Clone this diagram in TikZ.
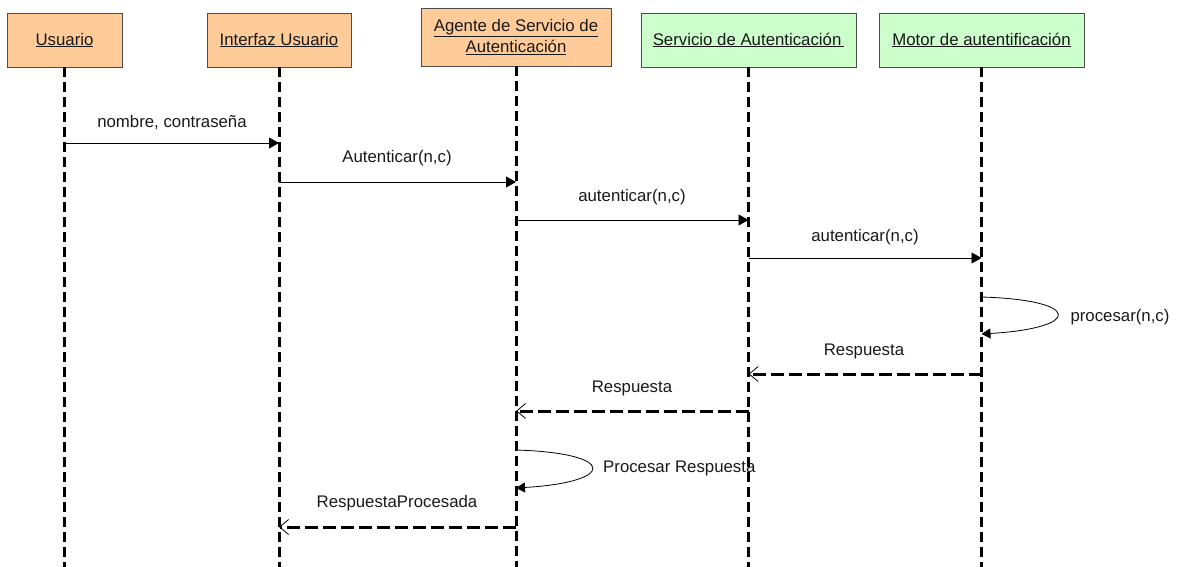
\documentclass[tikz,border=0pt]{standalone}
\usepackage{fontspec}
\setmainfont{Liberation Sans}
\usetikzlibrary{arrows.meta}
\definecolor{actorOrange}{HTML}{FFCC99}
\definecolor{actorGreen}{HTML}{CCFFCC}
\begin{document}
\begin{tikzpicture}[x=1pt,y=-1pt,
  txt/.style={font=\fontsize{16.8}{20}\selectfont, text=black!90, inner sep=0pt},
  actor/.style={txt, draw=black!70, line width=0.9pt, inner sep=0pt, align=center},
  lifeline/.style={line width=3pt, dash pattern=on 10pt off 5pt},
  call/.style={line width=0.8pt, -{Triangle[length=10pt,width=11pt]}},
  selfcall/.style={line width=0.8pt, -{Triangle[length=9pt,width=10pt]}},
  reply/.style={line width=3pt, dash pattern=on 13pt off 5pt,
    -{Straight Barb[length=9pt,width=15pt,line width=0.8pt]}},
]
\useasboundingbox (0,0) rectangle (1181,567);

% participants
\node[actor, fill=actorOrange, minimum width=115pt, minimum height=54pt] (usr) at (64.5,40) {\underline{Usuario}};
\node[actor, fill=actorOrange, minimum width=144pt, minimum height=54pt] (ui) at (279,40) {\underline{Interfaz Usuario}};
\node[actor, fill=actorOrange, minimum width=190pt, minimum height=58pt] (agt) at (516,37) {\underline{Agente de Servicio de}\\[1pt]\underline{Autenticación}};
\node[actor, fill=actorGreen, minimum width=215pt, minimum height=54pt] (srv) at (748.5,40) {\underline{Servicio de Autenticación\,}};
\node[actor, fill=actorGreen, minimum width=205pt, minimum height=54pt] (mot) at (981.5,40) {\underline{Motor de autentificación}};

% lifelines
\coordinate (bottom) at (0,567);
\foreach \p in {usr,ui,agt,srv,mot}
  \draw[lifeline] (\p.south) -- (\p.south |- bottom);

% message rows
\coordinate (m1a) at (usr.south |- 0,143);
\coordinate (m1b) at (ui.south |- 0,143);
\coordinate (m2a) at (ui.south |- 0,182);
\coordinate (m2b) at (agt.south |- 0,182);
\coordinate (m3a) at (agt.south |- 0,220);
\coordinate (m3b) at (srv.south |- 0,220);
\coordinate (m4a) at (srv.south |- 0,258);
\coordinate (m4b) at (mot.south |- 0,258);
\coordinate (s1a) at (mot.south |- 0,297);
\coordinate (s1b) at (mot.south |- 0,334);
\coordinate (r1a) at (mot.south |- 0,374);
\coordinate (r1b) at (srv.south |- 0,374);
\coordinate (r2a) at (srv.south |- 0,411);
\coordinate (r2b) at (agt.south |- 0,411);
\coordinate (s2a) at (agt.south |- 0,450);
\coordinate (s2b) at (agt.south |- 0,488);
\coordinate (r3a) at (agt.south |- 0,527);
\coordinate (r3b) at (ui.south |- 0,527);

% synchronous calls
\draw[call] (m1a) -- (m1b);
\draw[call] (m2a) -- (m2b);
\draw[call] (m3a) -- (m3b);
\draw[call] (m4a) -- (m4b);

% self calls
\draw[selfcall] (s1a) .. controls ++(101,3) and ++(101,-6) .. (s1b);
\draw[selfcall] (s2a) .. controls ++(101,3) and ++(101,-6) .. (s2b);

% replies
\draw[reply] (r1a) -- (r1b);
\draw[reply] (r2a) -- (r2b);
\draw[reply] (r3a) -- (r3b);

% labels
\node[txt] (l1) at (172,122) {nombre, contraseña};
\node[txt] (l2) at (397,158) {Autenticar(n,c)};
\node[txt] (l3) at (632,197) {autenticar(n,c)};
\node[txt] (l4) at (865,237) {autenticar(n,c)};
\node[txt] (l5) at (1120,317) {procesar(n,c)};
\node[txt] (l6) at (864,351) {Respuesta};
\node[txt] (l7) at (632,388) {Respuesta};
\node[txt, anchor=west] (l8) at (603,468) {Procesar Respuesta};
\node[txt] (l9) at (397,503) {RespuestaProcesada};
\end{tikzpicture}
\end{document}
